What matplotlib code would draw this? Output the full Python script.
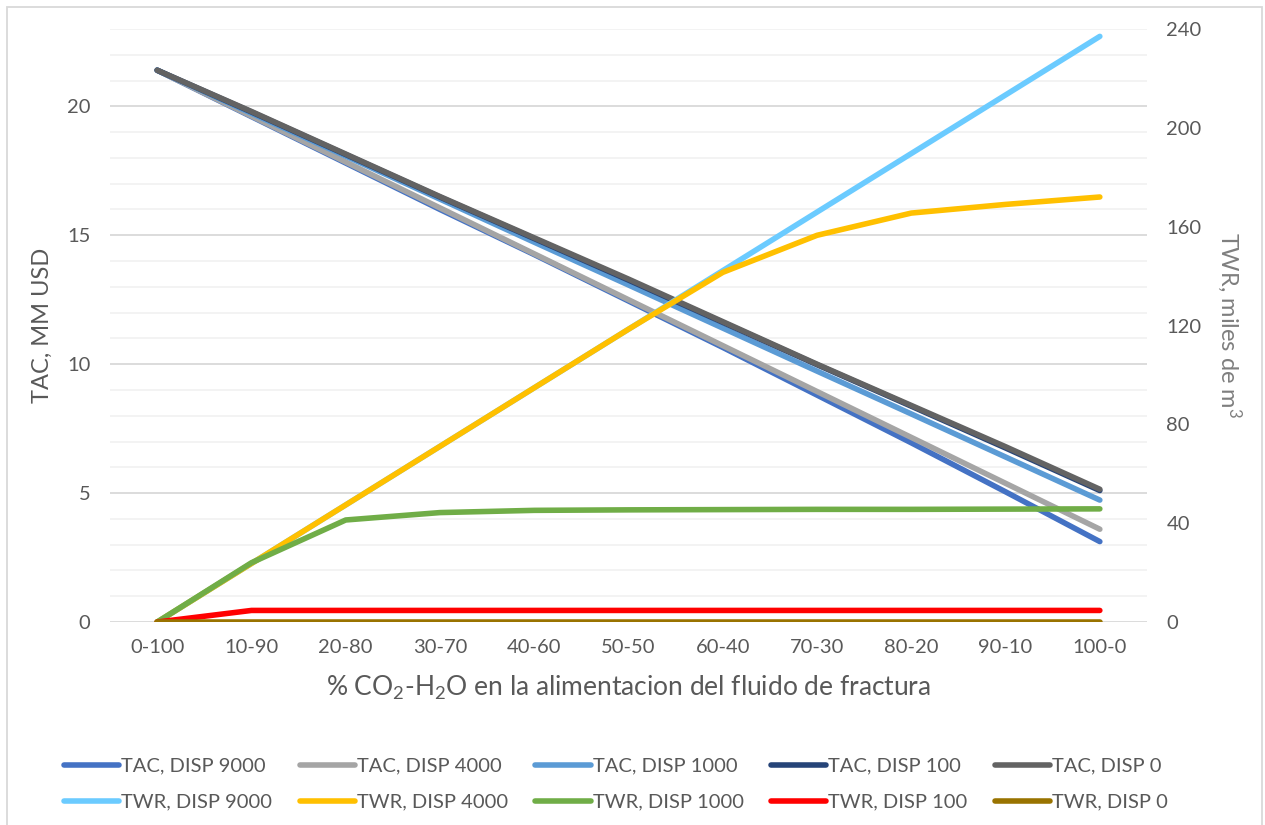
import matplotlib.pyplot as plt
from matplotlib.patches import Rectangle
from matplotlib.ticker import MultipleLocator

plt.rcParams["font.family"] = ["Lato", "DejaVu Sans"]
plt.rcParams["mathtext.default"] = "regular"

# Relación CO2-H2O en la alimentación
categorias = ["0-100", "10-90", "20-80", "30-70", "40-60", "50-50",
              "60-40", "70-30", "80-20", "90-10", "100-0"]

# TAC, MM USD (eje primario)
tac_9000 = [21.4, 19.6, 17.8, 16.0, 14.25, 12.45, 10.65, 8.8, 6.95, 5.05, 3.12]
tac_4000 = [21.4, 19.62, 17.84, 16.06, 14.28, 12.5, 10.72, 8.94, 7.16, 5.38, 3.6]
tac_1000 = [21.4, 19.73, 18.07, 16.4, 14.73, 13.07, 11.4, 9.73, 8.07, 6.4, 4.73]
tac_100 = [21.4, 19.78, 18.13, 16.48, 14.87, 13.26, 11.62, 9.98, 8.37, 6.75, 5.1]
tac_0 = [21.4, 19.8, 18.15, 16.5, 14.9, 13.3, 11.65, 10.0, 8.4, 6.8, 5.15]

# TWR, miles de m3 (eje secundario)
twr_9000 = [0, 23.7, 47.4, 71.1, 94.8, 118.5, 142.2, 165.9, 189.6, 213.3, 237.0]
twr_4000 = [0, 23.7, 47.4, 71.1, 94.8, 118.5, 141.5, 156.5, 165.5, 169.0, 172.0]
twr_1000 = [0, 24.0, 41.3, 44.3, 45.2, 45.4, 45.5, 45.6, 45.6, 45.7, 45.8]
twr_100 = [0, 4.7, 4.7, 4.7, 4.7, 4.7, 4.7, 4.7, 4.7, 4.7, 4.7]
twr_0 = [0, 0, 0, 0, 0, 0, 0, 0, 0, 0, 0]

tac_series = [
    ("TAC, DISP 9000", tac_9000, "#4472C4"),
    ("TAC, DISP 4000", tac_4000, "#A5A5A5"),
    ("TAC, DISP 1000", tac_1000, "#5B9BD5"),
    ("TAC, DISP 100", tac_100, "#264478"),
    ("TAC, DISP 0", tac_0, "#636363"),
]
twr_series = [
    ("TWR, DISP 9000", twr_9000, "#6BCBFF"),
    ("TWR, DISP 4000", twr_4000, "#FFC000"),
    ("TWR, DISP 1000", twr_1000, "#70AD47"),
    ("TWR, DISP 100", twr_100, "#FF0000"),
    ("TWR, DISP 0", twr_0, "#997300"),
]

txt = "#595959"
lw = 4.0

fig = plt.figure(figsize=(12.65, 8.25), dpi=100)
ax = fig.add_axes([0.087, 0.246, 0.8197, 0.7189])
ax2 = ax.twinx()

x = range(len(categorias))
h_tac = []
for nombre, vals, color in tac_series:
    (ln,) = ax.plot(x, vals, color=color, lw=lw, solid_capstyle="round", label=nombre)
    h_tac.append(ln)
h_twr = []
for nombre, vals, color in twr_series:
    (ln,) = ax2.plot(x, vals, color=color, lw=lw, solid_capstyle="round", label=nombre)
    h_twr.append(ln)

ax.set_xlim(-0.5, len(categorias) - 0.5)
ax.set_ylim(0, 23)
ax2.set_ylim(0, 240)
ax.set_xticks(list(x))
ax.set_xticklabels(categorias)
ax.yaxis.set_major_locator(MultipleLocator(5))
ax.yaxis.set_minor_locator(MultipleLocator(1))
ax2.yaxis.set_major_locator(MultipleLocator(40))

ax.grid(axis="y", which="major", color="#D9D9D9", lw=1.3)
ax.grid(axis="y", which="minor", color="#F2F2F2", lw=1.3)
ax.set_axisbelow(True)

for a in (ax, ax2):
    for s in a.spines.values():
        s.set_visible(False)
    a.tick_params(which="both", length=0, labelsize=14.5, colors=txt)
ax.tick_params(axis="x", pad=12)
ax.tick_params(axis="y", pad=14)
ax2.tick_params(axis="y", pad=14)

ax.set_ylabel("TAC, MM USD", fontsize=17, color=txt, labelpad=10)
ax2.set_ylabel("TWR, miles de m$^3$", fontsize=17, color="#7F7F7F",
               rotation=270, labelpad=30)
ax.set_xlabel("% CO$_2$-H$_2$O en la alimentacion del fluido de fractura",
              fontsize=19, color=txt, labelpad=13)

# leyenda en dos filas: TAC arriba, TWR abajo
handles = []
for a, b in zip(h_tac, h_twr):
    handles += [a, b]
fig.legend(handles=handles, labels=[h.get_label() for h in handles],
           ncol=5, loc="center", bbox_to_anchor=(0.487, 0.0495),
           frameon=False, fontsize=14.5, labelcolor=txt, handlelength=2.75,
           handletextpad=0.1, columnspacing=1.35, labelspacing=0.95)

fig.patches.append(Rectangle((7 / 1265, -0.01), 1255 / 1265, 1.0 - 7 / 825 + 0.01,
                             transform=fig.transFigure, fill=False,
                             edgecolor="#D9D9D9", lw=1.3))

fig.savefig("out.png", dpi=100, facecolor="white")
